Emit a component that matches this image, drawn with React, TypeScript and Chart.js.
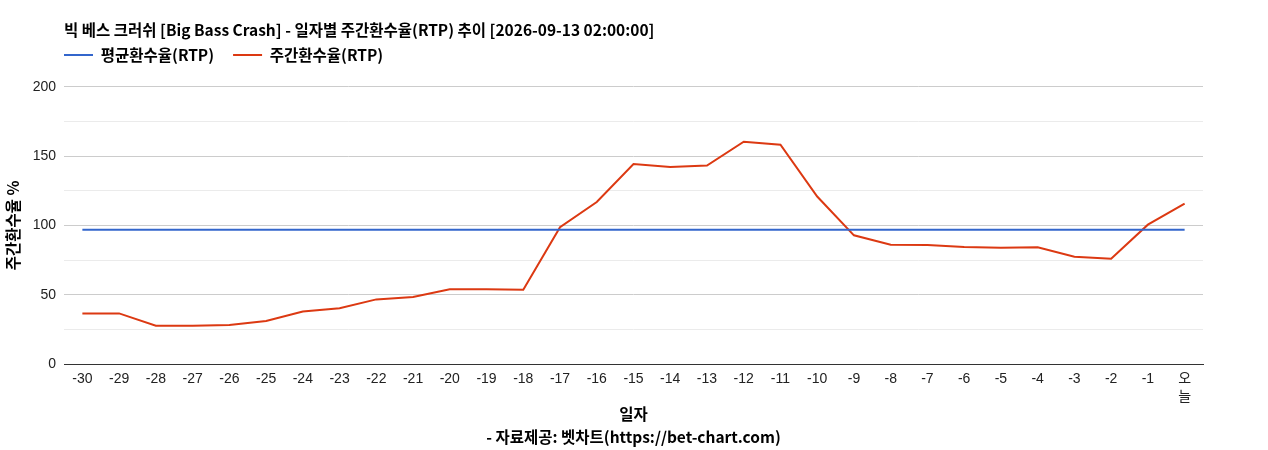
import React, { useEffect, useRef } from "react";
import { Chart, registerables } from "chart.js";

Chart.register(...registerables);

const CHART_TITLE = "빅 베스 크러쉬 [Big Bass Crash] - 일자별 주간환수율(RTP) 추이 [2026-09-13 02:00:00]";
const X_TITLE = ["일자", "- 자료제공: 벳차트(https://bet-chart.com)"];
const Y_TITLE = "주간환수율 %";

const categories: (string | string[])[] = [
  "-30", "-29", "-28", "-27", "-26", "-25", "-24", "-23", "-22", "-21",
  "-20", "-19", "-18", "-17", "-16", "-15", "-14", "-13", "-12", "-11",
  "-10", "-9", "-8", "-7", "-6", "-5", "-4", "-3", "-2", "-1", ["오", "늘"],
];

const avgLabel = "평균환수율(RTP)";
const avgValue = 96.8;
const avgSeries = categories.map(() => avgValue);

const weeklyLabel = "주간환수율(RTP)";
const weeklySeries = [
  36.5, 36.5, 27.6, 27.6, 28.1, 31.0, 37.8, 40.2, 46.6, 48.3,
  53.9, 53.9, 53.5, 98.6, 116.8, 144.2, 142.1, 143.1, 160.3, 158.2,
  120.8, 92.8, 86.0, 85.8, 84.4, 83.9, 84.2, 77.4, 76.0, 100.5, 115.7,
];

const BLUE = "#3366cc";
const RED = "#dc3912";
const KR_FONT = "'Noto Sans CJK KR', 'Noto Sans', sans-serif";
const TICK_FONT = "'Liberation Sans', 'Noto Sans CJK KR', sans-serif";

const LEGEND_PAD = 19;
const legendShift = {
  id: "legendShift",
  afterLayout(chart: any) {
    const lg = chart.legend;
    if (!lg) return;
    lg.left -= LEGEND_PAD;
    lg.right -= LEGEND_PAD;
    lg.top -= 14;
    lg.bottom -= 14;
  },
};

export default function App() {
  const ref = useRef<HTMLCanvasElement | null>(null);

  useEffect(() => {
    document.body.style.margin = "0";
    const canvas = ref.current;
    if (!canvas) return;
    const chart = new Chart(canvas, {
      type: "line",
      data: {
        labels: categories,
        datasets: [
          {
            label: avgLabel,
            data: avgSeries,
            borderColor: BLUE,
            backgroundColor: BLUE,
            borderWidth: 2,
            pointRadius: 0,
            tension: 0,
          },
          {
            label: weeklyLabel,
            data: weeklySeries,
            borderColor: RED,
            backgroundColor: RED,
            borderWidth: 2,
            pointRadius: 0,
            tension: 0,
          },
        ],
      },
      plugins: [legendShift],
      options: {
        animation: false,
        responsive: false,
        maintainAspectRatio: false,
        layout: { padding: { left: 0, right: 65, top: 0, bottom: 0 } },
        plugins: {
          title: {
            display: true,
            text: CHART_TITLE,
            align: "start",
            fullSize: false,
            color: "#000",
            font: { family: KR_FONT, size: 15.5, weight: "bold", lineHeight: 1.2 },
            padding: { top: 20.7, bottom: 2.9 },
          },
          legend: {
            display: true,
            align: "start",
            fullSize: false,
            labels: {
              boxWidth: 29,
              boxHeight: 0,
              padding: LEGEND_PAD,
              color: "#000",
              font: { family: KR_FONT, size: 15.5, weight: "bold" },
            },
          },
          tooltip: { enabled: false },
        },
        scales: {
          x: {
            offset: true,
            afterFit: (scale: any) => {
              scale.height = 86;
            },
            grid: { display: false, drawTicks: false },
            border: { display: true, color: "#333", width: 1 },
            ticks: {
              autoSkip: false,
              maxRotation: 0,
              minRotation: 0,
              padding: 6,
              color: "#222",
              font: { family: TICK_FONT, size: 14, lineHeight: 1.3 },
            },
            title: {
              display: true,
              text: X_TITLE,
              color: "#000",
              font: { family: KR_FONT, size: 15.5, weight: "bold", lineHeight: 1.5 },
              padding: { top: 0, bottom: 1 },
            },
          },
          y: {
            min: 0,
            max: 200,
            afterFit: (scale: any) => {
              scale.width = 64;
            },
            ticks: {
              stepSize: 25,
              padding: 8,
              color: "#222",
              font: { family: TICK_FONT, size: 14 },
              callback: (v: any) => (Number(v) % 50 === 0 ? String(v) : ""),
            },
            grid: {
              drawTicks: false,
              color: (ctx: any) => {
                const v = ctx.tick ? ctx.tick.value : 0;
                if (v === 0) return "#333";
                return v % 50 === 0 ? "#cccccc" : "#ebebeb";
              },
            },
            border: { display: false },
            title: {
              display: true,
              text: Y_TITLE,
              color: "#000",
              font: { family: KR_FONT, size: 15.5, weight: "bold" },
              padding: { top: 4, bottom: 0 },
            },
          },
        },
      },
    });
    return () => chart.destroy();
  }, []);

  return (
    <div style={{ width: 1268, height: 450, background: "#fff" }}>
      <canvas ref={ref} width={1268} height={450} style={{ width: 1268, height: 450, display: "block" }} />
    </div>
  );
}
